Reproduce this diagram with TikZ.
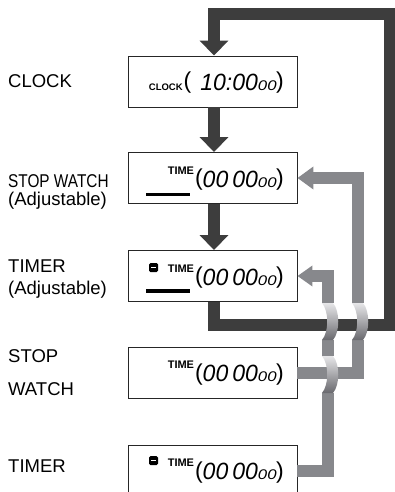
\documentclass[tikz,border=0pt]{standalone}
\usepackage{fontspec}
\usepackage{graphicx}
\setmainfont{Liberation Sans}
\newfontfamily\lcdfont{Liberation Sans}[FakeStretch=0.98]
\newfontfamily\lcdsfont{Liberation Sans}[FakeStretch=1.2]
\usetikzlibrary{arrows.meta,calc}
\definecolor{dk}{RGB}{61,61,61}
\definecolor{gr}{RGB}{135,136,140}
\definecolor{brtop}{RGB}{230,230,232}
\definecolor{brbot}{RGB}{105,105,110}
\newcommand\labfont{\fontsize{18.5}{21}\selectfont}
\newcommand\slab{\fontsize{11}{11}\selectfont\bfseries}
\newcommand\clab{\fontsize{9.5}{9.5}\selectfont\bfseries}
\newcommand\bigd{\fontsize{23.5}{23.5}\selectfont\lcdfont\itshape}
\newcommand\smd{\fontsize{14}{14}\selectfont\lcdsfont\itshape}
\newcommand\prn[1]{{\fontsize{23}{23}\selectfont\raisebox{1.5pt}{#1}}}
\newcommand\dispd[2]{\prn{(}\hspace{0pt}{\bigd #1}{\smd #2}\hspace{-0.5pt}\prn{)}}
\newcommand\bridgeat[3]{%
  \shade[top color=brtop, bottom color=brbot]
    (#1,#2) .. controls ({#1+7},{#2+8}) and ({#1+7},{#3-8}) .. (#1,#3)
    -- ({#1+11},#3) .. controls ({#1+18},{#3-8}) and ({#1+18},{#2+8}) .. ({#1+11},#2) -- cycle;}
\begin{document}
\begin{tikzpicture}[x=1pt,y=-1pt,
  box/.style={draw=black!85, line width=0.9pt, minimum width=169pt, minimum height=51pt, inner sep=0pt, fill=white},
  lab/.style={anchor=base west, inner sep=0pt, font=\labfont},
  dkline/.style={draw=dk, line width=12pt},
  dkarrow/.style={dkline, -{Triangle[width=28pt,length=15pt]}},
  grline/.style={draw=gr, line width=12pt},
  grarrow/.style={grline, -{Triangle[width=22pt,length=16pt]}},
  disp/.style={anchor=base east, inner sep=0pt}
]
\useasboundingbox (0,0) rectangle (395,492);
% left labels
\node[lab] (l1) at (8,88) {CLOCK};
\node[lab] (l2a) at (8,187) {\scalebox{0.83}[1]{STOP WATCH}};
\node[lab] (l2b) at (8,205) {(Adjustable)};
\node[lab] (l3a) at (8,272) {TIMER};
\node[lab] (l3b) at (8,294) {(Adjustable)};
\node[lab] (l4a) at (8,362) {STOP};
\node[lab] (l4b) at (8,395) {WATCH};
\node[lab] (l5) at (8,472) {TIMER};
% boxes
\node[box] (box1) at (212.5,81.5) {};
\node[box] (box2) at (212.5,178) {};
\node[box] (box3) at (212.5,276) {};
\node[box] (box4) at (212.5,372.5) {};
\node[box] (box5) at (212.5,470.5) {};
% displays
\node[disp] (t1) at (284,90.5) {{\clab CLOCK}\hspace{1pt}\prn{(}\hspace{9pt}{\bigd 10:00}{\smd 00}\hspace{-0.5pt}\prn{)}};
\node[disp] (t2) at (284,187) {\raisebox{13pt}{\slab TIME}\hspace{1pt}\dispd{00\hspace{4pt}00}{00}};
\node[disp] (t3) at (284,285) {\raisebox{13pt}{\slab TIME}\hspace{1pt}\dispd{00\hspace{4pt}00}{00}};
\node[disp] (t4) at (284,381.5) {\raisebox{13pt}{\slab TIME}\hspace{1pt}\dispd{00\hspace{4pt}00}{00}};
\node[disp] (t5) at (284,479.5) {\raisebox{13pt}{\slab TIME}\hspace{1pt}\dispd{00\hspace{4pt}00}{00}};
% underline bars
\fill[black] (146,192.5) rectangle (190,196);
\fill[black] (146,289) rectangle (190,292.5);
% minus icons
\fill[black, rounded corners=1.5pt] (149,263) rectangle (158,272);
\fill[white] (150.6,266.8) rectangle (156.4,268.2);
\fill[black, rounded corners=1.5pt] (149,456) rectangle (158,465);
\fill[white] (150.6,459.8) rectangle (156.4,461.2);
% gray connectors
\coordinate (a1) at (357.5,372.5);
\coordinate (b1) at (327.5,470.5);
\draw[grline, -{Triangle[width=20pt,length=15pt]}] (box5.east) -- (b1) |- (box3.east);
\fill[white] (321,303) rectangle (334,340);
\fill[white] (321,356) rectangle (334,393);
\draw[grarrow] (box4.east) -- (a1) |- (box2.east);
\fill[white] (351,303) rectangle (364,340);
% dark connectors
\coordinate (d1) at (389.5,325);
\coordinate (d2) at (389.5,14);
\draw[dkarrow] ([xshift=1.5pt]box3.south) |- (d1) -- (d2) -| ([xshift=1.5pt]box1.north);
\draw[dkarrow] ([xshift=1.5pt]box1.south) -- ([xshift=1.5pt]box2.north);
\draw[dkarrow] ([xshift=1.5pt]box2.south) -- ([xshift=1.5pt]box3.north);
% bridges
\bridgeat{322}{303}{340}
\bridgeat{352}{303}{340}
\bridgeat{322}{356}{393}
\end{tikzpicture}
\end{document}
